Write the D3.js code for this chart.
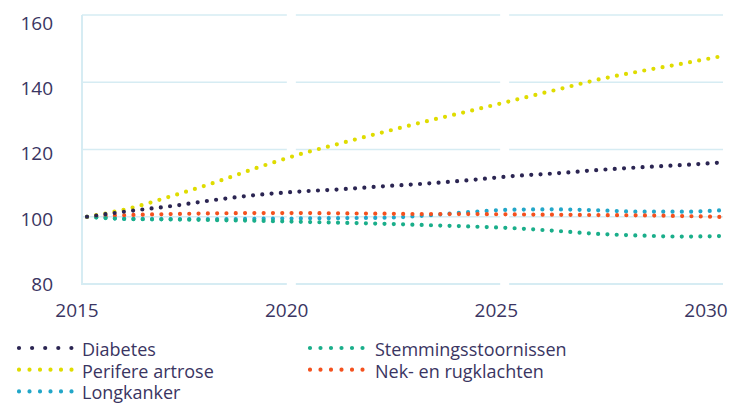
<!DOCTYPE html>
<html>
<head>
<meta charset="utf-8">
<script src="https://cdn.jsdelivr.net/npm/d3@7"></script>
<style>
  body { margin: 0; background: #fff; }
  text { font-family: "Open Sans", "Noto Sans", sans-serif; fill: #3a3562; }
</style>
</head>
<body>
<div id="chart"></div>
<script>
var years = [2015, 2016, 2017, 2018, 2019, 2020, 2021, 2022, 2023, 2024, 2025, 2026, 2027, 2028, 2029, 2030];
var xTicks = [2015, 2020, 2025, 2030];
var yTicks = [80, 100, 120, 140, 160];

var diabetes   = [100, 101.7, 103.2, 105.0, 106.5, 107.5, 108.2, 109.1, 109.9, 110.9, 112.1, 112.9, 113.9, 114.7, 115.4, 116.2];
var stemming   = [100, 99.3, 99.2, 99.0, 98.8, 98.5, 98.2, 97.9, 97.5, 97.1, 96.6, 95.8, 94.9, 94.4, 94.1, 94.3];
var artrose    = [100, 102.5, 106.2, 110.2, 114.6, 118.6, 122.0, 125.3, 128.5, 131.5, 134.6, 137.7, 140.8, 143.3, 145.6, 148.0];
var nekrug     = [100, 100.5, 100.8, 101.0, 101.1, 101.1, 101.0, 100.9, 100.8, 100.8, 100.7, 100.6, 100.5, 100.4, 100.2, 99.9];
var longkanker = [100, 99.4, 99.3, 99.3, 99.4, 99.5, 99.6, 99.7, 100.4, 101.4, 102.1, 102.2, 101.9, 101.5, 101.5, 102.0];

var seriesNames  = ["Diabetes", "Stemmingsstoornissen", "Perifere artrose", "Nek- en rugklachten", "Longkanker"];
var seriesValues = [diabetes, stemming, artrose, nekrug, longkanker];
var seriesColors = ["#2b2552", "#1aae8a", "#dfdc00", "#f4511e", "#22a6c8"];

var width = 731, height = 403;

var svg = d3.select("#chart").append("svg")
    .attr("width", width)
    .attr("height", height);

// plot area (not "top": that one is taken by window.top)
var plotLeft = 82, plotRight = 723, plotTop = 15, plotBottom = 284;

var y = d3.scaleLinear().domain([80, 160]).range([plotBottom, plotTop]);
var yLabel = d3.scaleLinear().domain([80, 160]).range([291, 29.5]); // label baselines
var x = d3.scaleLinear().domain([2015, 2030]).range([87, 726]);
var xGap = d3.scaleLinear().domain([2015, 2030]).range([78, 718]);
var xLabel = d3.scaleLinear().domain([2015, 2030]).range([77, 706]);

var grid = svg.append("g").attr("class", "grid");

grid.selectAll("line.h")
    .data(yTicks)
    .enter().append("line")
    .attr("class", "h")
    .attr("x1", plotLeft)
    .attr("x2", plotRight)
    .attr("y1", function(d) { return y(d); })
    .attr("y2", function(d) { return y(d); })
    .attr("stroke", "#d6ecf3")
    .attr("stroke-width", function(d) { return d === 80 ? 2 : 1.5; });

// white breaks in the gridlines at the inner year ticks
grid.selectAll("line.gap")
    .data(xTicks.slice(1, 3))
    .enter().append("line")
    .attr("class", "gap")
    .attr("x1", function(d) { return xGap(d); })
    .attr("x2", function(d) { return xGap(d); })
    .attr("y1", plotTop - 3)
    .attr("y2", plotBottom + 3)
    .attr("stroke", "#fff")
    .attr("stroke-width", 9);

grid.append("line")
    .attr("x1", plotLeft)
    .attr("x2", plotLeft)
    .attr("y1", plotTop)
    .attr("y2", plotBottom + 1)
    .attr("stroke", "#d6ecf3")
    .attr("stroke-width", 2);

svg.append("g").selectAll("text")
    .data(yTicks)
    .enter().append("text")
    .attr("x", 53)
    .attr("y", function(d) { return yLabel(d); })
    .attr("text-anchor", "end")
    .style("font-size", "19px")
    .text(function(d) { return d; });

svg.append("g").selectAll("text")
    .data(xTicks)
    .enter().append("text")
    .attr("x", function(d) { return xLabel(d); })
    .attr("y", 317)
    .attr("text-anchor", "middle")
    .style("font-size", "19px")
    .text(function(d) { return d; });

var line = d3.line()
    .curve(d3.curveMonotoneX)
    .x(function(d, i) { return x(years[i]); })
    .y(function(d) { return y(d); });

// draw back to front so diabetes ends on top like the original
var drawOrder = [4, 3, 1, 2, 0];
svg.append("g").selectAll("path")
    .data(drawOrder)
    .enter().append("path")
    .attr("d", function(k) { return line(seriesValues[k]); })
    .attr("fill", "none")
    .attr("stroke", function(k) { return seriesColors[k]; })
    .attr("stroke-width", 4.2)
    .attr("stroke-linecap", "round")
    .attr("stroke-dasharray", "0 9.3");

// legend, two columns
var legend = svg.append("g").attr("class", "legend");
var item = legend.selectAll("g")
    .data(seriesNames)
    .enter().append("g")
    .attr("transform", function(d, i) {
      var col = i % 2, row = Math.floor(i / 2);
      return "translate(" + (col === 0 ? 19 : 310) + "," + (356 + row * 21.7) + ")";
    });

item.append("line")
    .attr("x1", 0)
    .attr("x2", 53)
    .attr("y1", -8)
    .attr("y2", -8)
    .attr("stroke", function(d, i) { return seriesColors[i]; })
    .attr("stroke-width", 4.2)
    .attr("stroke-linecap", "round")
    .attr("stroke-dasharray", function(d, i) { return i === 0 ? "0 13.1" : "0 10.5"; });

item.append("text")
    .attr("x", function(d, i) { return i % 2 === 0 ? 63 : 65; })
    .attr("y", 0)
    .style("font-size", "18px")
    .text(function(d) { return d; });
</script>
</body>
</html>
